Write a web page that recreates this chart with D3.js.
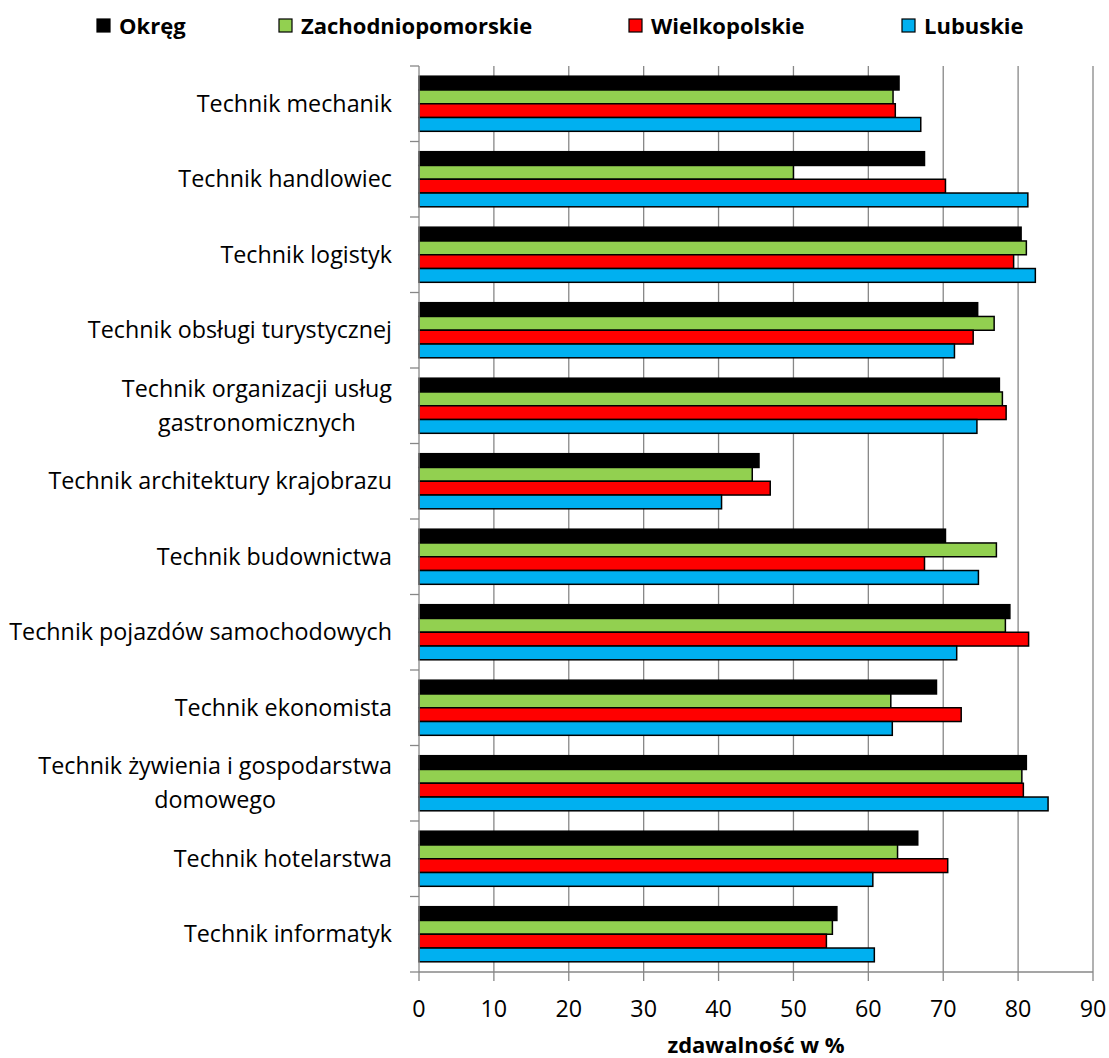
<!DOCTYPE html>
<html>
<head>
<meta charset="utf-8">
<script src="https://cdn.jsdelivr.net/npm/d3@7"></script>
<style>
  html, body { margin: 0; padding: 0; background: #fff; }
  svg { display: block; }
  text { font-family: "Open Sans", sans-serif; fill: #000; }
</style>
</head>
<body>
<svg id="chart" width="1109" height="1058"></svg>
<script>
const categories = [
  "Technik mechanik",
  "Technik handlowiec",
  "Technik logistyk",
  "Technik obsługi turystycznej",
  "Technik organizacji usług\ngastronomicznych",
  "Technik architektury krajobrazu",
  "Technik budownictwa",
  "Technik pojazdów samochodowych",
  "Technik ekonomista",
  "Technik żywienia i gospodarstwa\ndomowego",
  "Technik hotelarstwa",
  "Technik informatyk"
];
const seriesNames = ["Okręg", "Zachodniopomorskie", "Wielkopolskie", "Lubuskie"];
const seriesColors = ["#000000", "#92D050", "#FF0000", "#00B0F0"];
const okreg              = [64.1, 67.5, 80.4, 74.6, 77.5, 45.4, 70.3, 78.9, 69.1, 81.1, 66.6, 55.8];
const zachodniopomorskie = [63.3, 50.0, 81.1, 76.8, 77.9, 44.5, 77.1, 78.3, 63.0, 80.5, 63.9, 55.2];
const wielkopolskie      = [63.6, 70.3, 79.4, 74.0, 78.4, 46.9, 67.5, 81.4, 72.4, 80.7, 70.6, 54.4];
const lubuskie           = [67.0, 81.3, 82.3, 71.5, 74.5, 40.4, 74.7, 71.8, 63.2, 84.0, 60.6, 60.8];
const xTicks = [0, 10, 20, 30, 40, 50, 60, 70, 80, 90];
const xTitle = "zdawalność w %";

const seriesValues = [okreg, zachodniopomorskie, wielkopolskie, lubuskie];

(function () {
const svg = d3.select("#chart");
const pLeft = 419, pRight = 1093, pTop = 66, pBottom = 972;
const gridColor = "#878787";

const x = d3.scaleLinear().domain([0, 90]).range([pLeft, pRight]);
const y = d3.scaleBand().domain(categories).range([pTop, pBottom]).paddingInner(0.27).paddingOuter(0.135);
const yInner = d3.scaleBand().domain(seriesNames).range([0, y.bandwidth()]);
const step = y.step();

// gridlines
svg.append("g").selectAll("line").data(xTicks.slice(1)).join("line")
  .attr("x1", d => x(d)).attr("x2", d => x(d))
  .attr("y1", pTop).attr("y2", pBottom)
  .attr("stroke", gridColor).attr("stroke-width", 1.3);

// bars
const groups = svg.append("g").selectAll("g").data(categories).join("g")
  .attr("transform", d => `translate(0,${y(d)})`);
groups.selectAll("rect").data((d, i) => seriesNames.map((s, j) => ({ s, j, v: seriesValues[j][i] })))
  .join("rect")
  .attr("x", x(0))
  .attr("y", d => yInner(d.s))
  .attr("width", d => x(d.v) - x(0))
  .attr("height", yInner.bandwidth())
  .attr("fill", d => seriesColors[d.j])
  .attr("stroke", "#000")
  .attr("stroke-width", 1.5);

// left axis
const yAxisG = svg.append("g");
yAxisG.append("line").attr("x1", pLeft).attr("x2", pLeft).attr("y1", pTop).attr("y2", pBottom)
  .attr("stroke", gridColor).attr("stroke-width", 1.3);
const boundaries = d3.range(categories.length + 1).map(i => pTop + i * step);
yAxisG.selectAll("line.tick").data(boundaries).join("line").attr("class", "tick")
  .attr("x1", pLeft - 9).attr("x2", pLeft).attr("y1", d => d).attr("y2", d => d)
  .attr("stroke", gridColor).attr("stroke-width", 1.3);

// bottom axis
const xAxisG = svg.append("g");
xAxisG.append("line").attr("x1", pLeft).attr("x2", pRight).attr("y1", pBottom).attr("y2", pBottom)
  .attr("stroke", gridColor).attr("stroke-width", 1.3);
xAxisG.selectAll("line.tick").data(xTicks).join("line").attr("class", "tick")
  .attr("x1", d => x(d)).attr("x2", d => x(d)).attr("y1", pBottom).attr("y2", pBottom + 9)
  .attr("stroke", gridColor).attr("stroke-width", 1.3);
xAxisG.selectAll("text").data(xTicks).join("text")
  .attr("x", d => x(d)).attr("y", 1017)
  .attr("text-anchor", "middle")
  .style("font-size", "23.3px")
  .text(d => d);

svg.append("text").attr("x", (pLeft + pRight) / 2).attr("y", 1053)
  .attr("text-anchor", "middle").style("font-size", "22px").style("font-weight", "bold")
  .text(xTitle);

// category labels
const labelRight = 392;
const lineH = 34;
categories.forEach(c => {
  const lines = c.split("\n");
  const cy = y(c) + y.bandwidth() / 2;
  const t = svg.append("text").style("font-size", "23.3px");
  const tspans = lines.map(ln => t.append("tspan").text(ln));
  const widths = tspans.map(ts => ts.node().getComputedTextLength());
  const maxW = d3.max(widths);
  const firstBase = cy + 8 - (lines.length - 1) * lineH / 2;
  tspans.forEach((ts, k) => {
    ts.attr("x", labelRight - maxW / 2).attr("y", firstBase + k * lineH).attr("text-anchor", "middle");
  });
});

// legend
const legendX = [97, 279, 629, 902];
const leg = svg.append("g").selectAll("g").data(seriesNames).join("g")
  .attr("transform", (d, i) => `translate(${legendX[i]},0)`);
leg.append("rect").attr("x", 0).attr("y", 19).attr("width", 13).attr("height", 13)
  .attr("fill", (d, i) => seriesColors[i]).attr("stroke", "#000").attr("stroke-width", 1.2);
leg.append("text").attr("x", 22).attr("y", 34)
  .style("font-size", "22px").style("font-weight", "bold")
  .text(d => d);
})();
</script>
</body>
</html>
